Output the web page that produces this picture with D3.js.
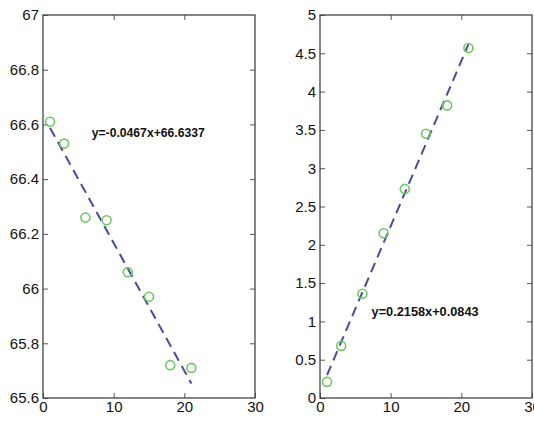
<!DOCTYPE html>
<html>
<head>
<meta charset="utf-8">
<script src="https://cdn.jsdelivr.net/npm/d3@7"></script>
<style>
	body { margin: 0; background: #fff; }
	svg { display: block; }
</style>
</head>
<body>
<svg width="534" height="423"></svg>
<script>
// sample positions, same for both panels
var xValues = [1, 3, 6, 9, 12, 15, 18, 21];
var leftValues = [66.61, 66.53, 66.26, 66.25, 66.06, 65.97, 65.72, 65.71];
var rightValues = [0.21, 0.68, 1.36, 2.15, 2.73, 3.45, 3.82, 4.57];

var xTicks = [0, 10, 20, 30];
var leftTicks = [65.6, 65.8, 66, 66.2, 66.4, 66.6, 66.8, 67];
var rightTicks = [0, 0.5, 1, 1.5, 2, 2.5, 3, 3.5, 4, 4.5, 5];

// fitted lines as printed on the chart
var leftFit = {slope: -0.0467, intercept: 66.6337, label: "y=-0.0467x+66.6337"};
var rightFit = {slope: 0.2158, intercept: 0.0843, label: "y=0.2158x+0.0843"};

class Panel {
	constructor(left, right, yDomain, yTicks) {
		this.left = left;
		this.right = right;
		this.top = 15;
		this.bottom = 398;
		this.x = d3.scaleLinear().domain([0, 30]).range([left, right]);
		this.y = d3.scaleLinear().domain(yDomain).range([this.bottom, this.top]);
		this.yTicks = yTicks;
	}

	drawAxes(svg) {
		var fmt = d => String(+d.toFixed(2));
		var styleAxis = g => {
			g.select(".domain").remove();
			g.selectAll("line").attr("stroke", "#555");
			g.selectAll("text")
				.attr("fill", "#111")
				.style("font-family", "Liberation Sans, Arial, sans-serif")
				.style("font-size", "15px");
		};

		svg.append("g")
			.attr("transform", "translate(0," + this.bottom + ")")
			.call(d3.axisBottom(this.x).tickValues(xTicks).tickFormat(fmt)
				.tickSizeInner(-5).tickSizeOuter(0).tickPadding(3))
			.call(styleAxis);
		svg.append("g")
			.attr("transform", "translate(0," + this.top + ")")
			.call(d3.axisTop(this.x).tickValues(xTicks.slice(1, -1)).tickFormat("")
				.tickSizeInner(-5).tickSizeOuter(0))
			.call(styleAxis);
		svg.append("g")
			.attr("transform", "translate(" + this.left + ",0)")
			.call(d3.axisLeft(this.y).tickValues(this.yTicks).tickFormat(fmt)
				.tickSizeInner(-5).tickSizeOuter(0).tickPadding(4))
			.call(styleAxis);
		svg.append("g")
			.attr("transform", "translate(" + this.right + ",0)")
			.call(d3.axisRight(this.y).tickValues(this.yTicks.slice(1, -1)).tickFormat("")
				.tickSizeInner(-5).tickSizeOuter(0))
			.call(styleAxis);

		svg.append("rect")
			.attr("x", this.left)
			.attr("y", this.top)
			.attr("width", this.right - this.left)
			.attr("height", this.bottom - this.top)
			.attr("fill", "none")
			.attr("stroke", "#444")
			.attr("stroke-width", 1.3);
	}

	drawFit(svg, fit) {
		var ends = [xValues[0], xValues[xValues.length - 1]];
		var line = d3.line()
			.x(d => this.x(d))
			.y(d => this.y(fit.slope * d + fit.intercept));
		svg.append("path")
			.attr("d", line(ends))
			.attr("fill", "none")
			.attr("stroke", "#4b4b9e")
			.attr("stroke-width", 2)
			.attr("stroke-dasharray", "10,6");
	}

	drawPoints(svg, values) {
		svg.append("g").selectAll("circle")
			.data(values)
			.join("circle")
			.attr("cx", (d, i) => this.x(xValues[i]))
			.attr("cy", d => this.y(d))
			.attr("r", 4.5)
			.attr("fill", "none")
			.attr("stroke", "#6cc860")
			.attr("stroke-width", 1.6);
	}

	drawLabel(svg, text, x, y, len) {
		svg.append("text")
			.attr("x", this.x(x))
			.attr("y", this.y(y))
			.attr("dy", "0.35em")
			.attr("textLength", len)
			.attr("lengthAdjust", "spacingAndGlyphs")
			.style("font-family", "Liberation Sans, Arial, sans-serif")
			.style("font-size", "12px")
			.style("font-weight", "bold")
			.attr("fill", "#111")
			.text(text);
	}
}

var svg = d3.select("svg");

var leftPanel = new Panel(43, 255, [65.6, 67], leftTicks);
leftPanel.drawAxes(svg);
leftPanel.drawFit(svg, leftFit);
leftPanel.drawPoints(svg, leftValues);
leftPanel.drawLabel(svg, leftFit.label, 6.9, 66.57, 113);

var rightPanel = new Panel(320, 532, [0, 5], rightTicks);
rightPanel.drawAxes(svg);
rightPanel.drawFit(svg, rightFit);
rightPanel.drawPoints(svg, rightValues);
rightPanel.drawLabel(svg, rightFit.label, 7.3, 1.12, 107);
</script>
</body>
</html>
